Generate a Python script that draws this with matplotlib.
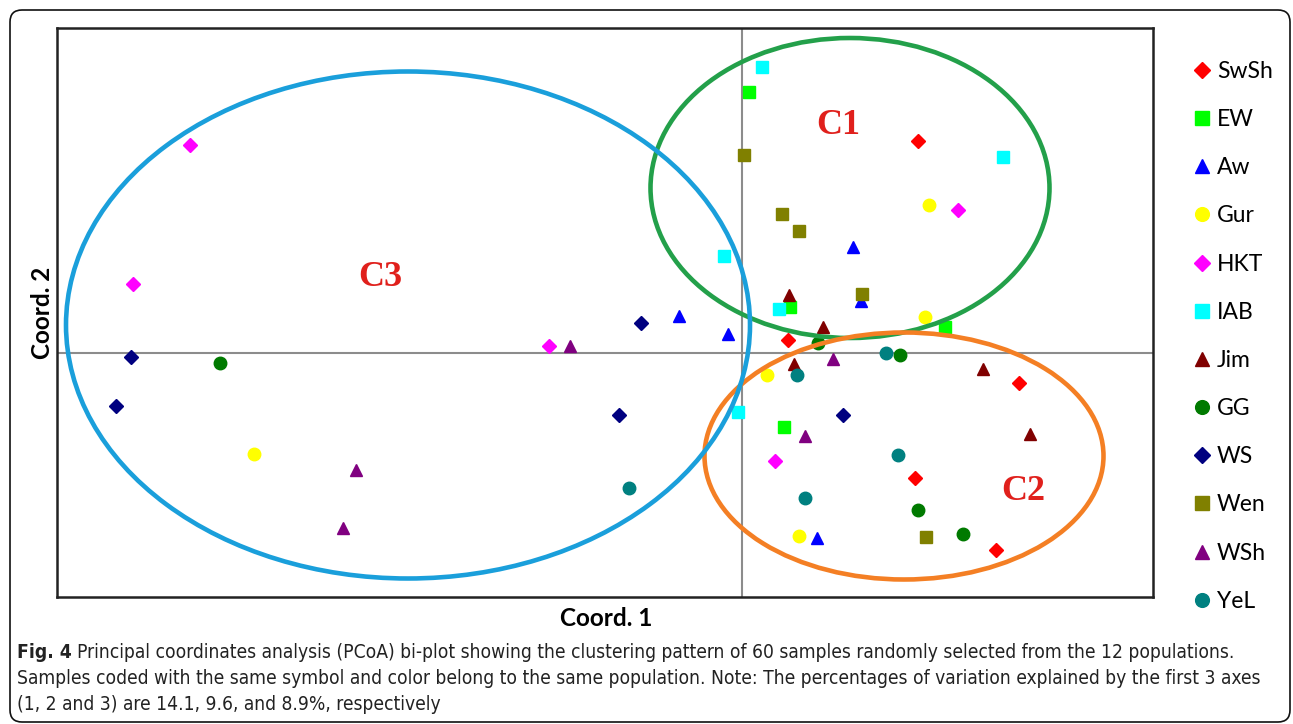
import matplotlib
matplotlib.use("Agg")
import matplotlib.pyplot as plt
from matplotlib.patches import Ellipse, FancyBboxPatch
from matplotlib import font_manager

# populations and their PCoA scores (Coord. 1, Coord. 2)
populations = ["SwSh", "EW", "Aw", "Gur", "HKT", "IAB", "Jim", "GG", "WS", "Wen", "WSh", "YeL"]
colors = ["#FF0000", "#00FF00", "#0000FF", "#FFFF00", "#FF00FF", "#00FFFF",
          "#800000", "#007A00", "#000080", "#808000", "#800080", "#008080"]
markers = ["D", "s", "^", "o", "D", "s", "^", "o", "D", "s", "^", "o"]

swsh_x = [1.76, 0.46, 2.77, 1.73, 2.54]
swsh_y = [2.12, 0.13, -0.30, -1.25, -1.97]
ew_x = [0.07, 0.48, 2.03, 0.42]
ew_y = [2.61, 0.46, 0.26, -0.74]
aw_x = [1.11, 1.19, -0.63, -0.14, 0.75]
aw_y = [1.06, 0.52, 0.37, 0.19, -1.85]
gur_x = [1.87, 1.83, 0.25, -4.88, 0.57]
gur_y = [1.48, 0.36, -0.22, -1.01, -1.83]
hkt_x = [-5.52, -6.09, 2.16, -1.93, 0.33]
hkt_y = [2.08, 0.69, 1.43, 0.07, -1.08]
iab_x = [0.20, 2.61, -0.18, 0.37, -0.04]
iab_y = [2.86, 1.96, 0.97, 0.44, -0.59]
jim_x = [0.47, 0.81, 0.52, 2.41, 2.88]
jim_y = [0.58, 0.26, -0.11, -0.16, -0.81]
gg_x = [-5.22, 1.58, 1.76, 2.21, 0.76]
gg_y = [-0.10, -0.02, -1.57, -1.81, 0.10]
ws_x = [-6.11, -6.26, -1.01, -1.23, 1.01]
ws_y = [-0.04, -0.53, 0.30, -0.62, -0.62]
wen_x = [0.02, 0.40, 0.57, 1.20, 1.84]
wen_y = [1.98, 1.39, 1.22, 0.59, -1.84]
wsh_x = [-1.72, -3.86, -3.99, 0.91, 0.63]
wsh_y = [0.07, -1.17, -1.75, -0.06, -0.83]
yel_x = [1.44, 0.55, -1.13, 1.56, 0.63]
yel_y = [0.00, -0.22, -1.35, -1.02, -1.45]

xs = [swsh_x, ew_x, aw_x, gur_x, hkt_x, iab_x, jim_x, gg_x, ws_x, wen_x, wsh_x, yel_x]
ys = [swsh_y, ew_y, aw_y, gur_y, hkt_y, iab_y, jim_y, gg_y, ws_y, wen_y, wsh_y, yel_y]

# cluster ellipses: label, centre, width, height, colour, label position
clusters = ["C1", "C2", "C3"]
cl_center = [(1.08, 1.65), (1.62, -1.03), (-3.34, 0.28)]
cl_width = [3.99, 3.99, 6.84]
cl_height = [3.00, 2.47, 5.07]
cl_color = ["#23A04A", "#F47F24", "#1A9FDB"]
cl_text = [(0.96, 2.28), (2.81, -1.39), (-3.62, 0.76)]

names = {f.name for f in font_manager.fontManager.ttflist}
sans = "Lato" if "Lato" in names else "DejaVu Sans"


def condensed_font(bold):
    # look for an installed condensed / narrow sans face for the caption
    want = 700 if bold else 400
    best = None
    for f in font_manager.fontManager.ttflist:
        if f.style != "normal" or f.weight != want:
            continue
        if f.stretch not in ("condensed", "semi-condensed"):
            continue
        if "Extra" in f.fname or "Ultra" in f.fname:
            continue
        score = 0 if f.stretch == "condensed" else 1
        if best is None or score < best[0]:
            best = (score, f.fname)
    if best is None:
        return font_manager.FontProperties(family="Liberation Sans",
                                           weight="bold" if bold else "normal")
    return font_manager.FontProperties(fname=best[1])


fig = plt.figure(figsize=(12.93, 7.24), dpi=100)
W, H = 1293, 724
ax = fig.add_axes([57 / W, (H - 597) / H, (1153 - 57) / W, (597 - 28) / H])

ax.axhline(0, color="#8c8c8c", lw=1.5, zorder=1)
ax.axvline(0, color="#8c8c8c", lw=1.5, zorder=1)

for i in range(len(clusters)):
    e = Ellipse(cl_center[i], cl_width[i], cl_height[i], fill=False,
                ec=cl_color[i], lw=3.3, zorder=3)
    ax.add_patch(e)
    ax.text(cl_text[i][0], cl_text[i][1], clusters[i], color="#E0201C",
            fontsize=26, fontweight="bold", family="Liberation Serif",
            ha="center", va="center", zorder=4)

for i, pop in enumerate(populations):
    ms = 7.5 if markers[i] == "D" else 9
    ax.plot(xs[i], ys[i], linestyle="none", marker=markers[i], ms=ms,
            color=colors[i], mec=colors[i], label=pop, zorder=2)

ax.set_xlim(-6.85, 4.11)
ax.set_ylim(-2.44, 3.25)
ax.set_xticks([])
ax.set_yticks([])
for s in ax.spines.values():
    s.set_linewidth(1.8)
    s.set_color("#222222")

fig.text(606 / W, 1 - 619 / H, "Coord. 1", fontsize=17.5, fontweight="bold",
         family=sans, ha="center", va="center")
fig.text(42 / W, 1 - 313 / H, "Coord. 2", fontsize=17.5, fontweight="bold",
         family=sans, ha="center", va="center", rotation=90)

leg = fig.legend(loc="upper left", bbox_to_anchor=(1193 / W, 1 - 61 / H),
                 frameon=False, prop={"family": sans, "size": 16.5},
                 labelspacing=1.185, handlelength=0.8, handletextpad=0.25,
                 borderpad=0, borderaxespad=0, markerscale=1.1)

# outer rounded frame
box = FancyBboxPatch((10, 2), 1280, 712, boxstyle="round,pad=0,rounding_size=12",
                     transform=None, fill=False, ec="#111111", lw=1.2)
fig.patches.append(box)

# caption
cap_lines = [
    "Principal coordinates analysis (PCoA) bi-plot showing the clustering pattern of 60 samples randomly selected from the 12 populations.",
    "Samples coded with the same symbol and color belong to the same population. Note: The percentages of variation explained by the first 3 axes",
    "(1, 2 and 3) are 14.1, 9.6, and 8.9%, respectively",
]
cap_y = [652, 678, 704]
reg_fp = condensed_font(False)
bold_fp = condensed_font(True)
fig.canvas.draw()
r = fig.canvas.get_renderer()
fs = 13
bold_fp.set_size(fs)
reg_fp.set_size(fs)
bold = fig.text(17 / W, 1 - cap_y[0] / H, "Fig. 4", fontproperties=bold_fp.copy(),
                color="#222222", va="center", ha="left")
bw = bold.get_window_extent(r).width
t0 = fig.text((17 + bw + 5) / W, 1 - cap_y[0] / H, cap_lines[0],
              fontproperties=reg_fp.copy(), color="#222222", va="center", ha="left")
# fit first line to target width
tw = t0.get_window_extent(r).x1 - 17
fs2 = fs * (1238 - 17) / tw
bold.set_fontsize(fs2)
bw = bold.get_window_extent(r).width
t0.set_fontsize(fs2)
t0.set_x((17 + bw + 5) / W)
for k in (1, 2):
    t = fig.text(17 / W, 1 - cap_y[k] / H, cap_lines[k],
                 fontproperties=reg_fp.copy(), color="#222222", va="center", ha="left")
    t.set_fontsize(fs2)

fig.savefig("out.png", dpi=100)
